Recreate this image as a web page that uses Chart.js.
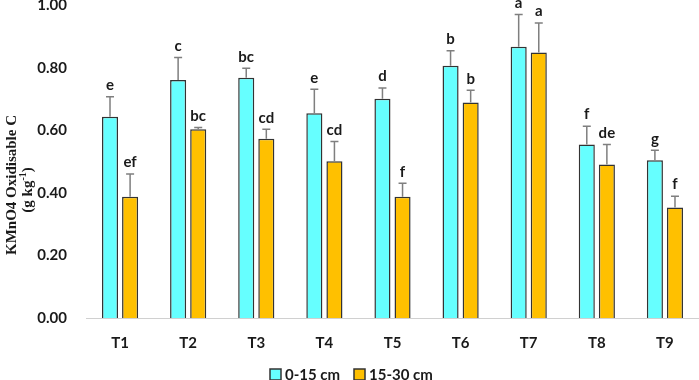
<!DOCTYPE html>
<html><head><meta charset="utf-8">
<script src="https://cdn.jsdelivr.net/npm/chart.js@4/dist/chart.umd.min.js"></script>
<style>html,body{margin:0;padding:0;background:#fff}#wrap{width:699px;height:380px;position:relative}</style>
</head><body><div id="wrap"><canvas id="c" width="699" height="380"></canvas></div>
<script>
const categories = ['T1','T2','T3','T4','T5','T6','T7','T8','T9'];
const seriesNames = ['0-15 cm','15-30 cm'];
const depth0_15 = [0.644,0.762,0.769,0.655,0.702,0.807,0.868,0.555,0.505];
const depth15_30 = [0.388,0.604,0.574,0.502,0.388,0.690,0.850,0.491,0.354];
const err0_15 = [0.064,0.072,0.030,0.077,0.034,0.048,0.103,0.059,0.032];
const err15_30 = [0.073,0.006,0.030,0.063,0.043,0.039,0.094,0.064,0.036];
const letters0_15 = ['e','c','bc','e','d','b','a','f','g'];
const letters15_30 = ['ef','bc','cd','cd','f','b','a','de','f'];
const yTicks = [0,0.2,0.4,0.6,0.8,1.0];
const yTitle = 'KMnO4 Oxidisable C';
const yUnitBase = '(g kg';
const yUnitSup = '-1';
const yUnitEnd = ')';

const errs = [err0_15, err15_30];
const lets = [letters0_15, letters15_30];
const TXT = '#1a1a1a';

const errPlugin = {
  id:'errs',
  afterDatasetsDraw(chart){
    const ctx = chart.ctx, ys = chart.scales.y;
    chart.data.datasets.forEach((ds,i)=>{
      const meta = chart.getDatasetMeta(i);
      meta.data.forEach((bar,j)=>{
        const v = ds.data[j], e = errs[i][j];
        const yTop = ys.getPixelForValue(v+e);
        const yV = ys.getPixelForValue(v);
        ctx.save();
        ctx.strokeStyle='#7f7f7f'; ctx.lineWidth=1.5;
        ctx.beginPath();
        ctx.moveTo(bar.x,yV); ctx.lineTo(bar.x,yTop);
        ctx.moveTo(bar.x-4,yTop); ctx.lineTo(bar.x+4,yTop);
        ctx.stroke();
        ctx.fillStyle=TXT;
        ctx.font='bold 15px Lato';
        ctx.textAlign='center'; ctx.textBaseline='bottom';
        ctx.fillText(lets[i][j], bar.x, yTop-4);
        ctx.restore();
      });
    });
  },
  afterDraw(chart){
    const ctx = chart.ctx;
    ctx.save();
    ctx.fillStyle=TXT;
    ctx.translate(12,185); ctx.rotate(-Math.PI/2);
    ctx.font='bold 15px "Liberation Serif"';
    ctx.textAlign='center'; ctx.textBaseline='middle';
    ctx.fillText(yTitle,0,0);
    const f1='bold 15px "Liberation Serif"', f2='bold 10px "Liberation Serif"';
    ctx.font=f1; const w1=ctx.measureText(yUnitBase).width, w3=ctx.measureText(yUnitEnd).width;
    ctx.font=f2; const w2=ctx.measureText(yUnitSup).width;
    const tot=w1+w2+w3; let x0=-tot/2 - 5; const y2=16;
    ctx.textAlign='left';
    ctx.font=f1; ctx.fillText(yUnitBase,x0,y2); x0+=w1;
    ctx.font=f2; ctx.fillText(yUnitSup,x0,y2-5); x0+=w2;
    ctx.font=f1; ctx.fillText(yUnitEnd,x0,y2);
    ctx.restore();
    // legend (drawn from dataset labels/colours)
    const ds = chart.data.datasets;
    const boxX = [270, 354];
    ctx.save();
    ctx.font='bold 15px Lato'; ctx.textBaseline='middle'; ctx.textAlign='left';
    ds.forEach((d,i)=>{
      ctx.fillStyle=d.backgroundColor; ctx.strokeStyle='#333333'; ctx.lineWidth=1.5;
      ctx.fillRect(boxX[i],369,11,11); ctx.strokeRect(boxX[i],369,11,11);
      ctx.fillStyle=TXT; ctx.fillText(d.label, boxX[i]+15, 375);
    });
    ctx.restore();
  }
};

new Chart(document.getElementById('c'),{
  type:'bar',
  data:{labels:categories,datasets:[
    {label:seriesNames[0],data:depth0_15,backgroundColor:'#66FFFF',borderColor:'#333333',borderWidth:1.5,categoryPercentage:0.59,barPercentage:0.8},
    {label:seriesNames[1],data:depth15_30,backgroundColor:'#FFC000',borderColor:'#333333',borderWidth:1.5,categoryPercentage:0.59,barPercentage:0.8}
  ]},
  options:{
    responsive:false,animation:false,
    layout:{padding:0},
    plugins:{legend:{display:false},tooltip:{enabled:false}},
    scales:{
      x:{grid:{display:false},border:{color:'#d0d0d0',width:1},
         afterFit:s=>{s.height=62;},
         ticks:{color:TXT,padding:8,font:{family:'Lato',weight:'bold',size:15}}},
      y:{min:0,max:1,grid:{display:false},border:{display:false},
         afterBuildTicks:s=>{s.ticks=yTicks.map(v=>({value:v}));},
         afterFit:s=>{s.width=86; s.paddingTop=5.5; s.paddingBottom=0;},
         ticks:{color:TXT,padding:11,font:{family:'Lato',weight:'bold',size:15},callback:v=>v.toFixed(2)},
         title:{display:false}}
    }
  },
  plugins:[errPlugin]
});
</script></body></html>
